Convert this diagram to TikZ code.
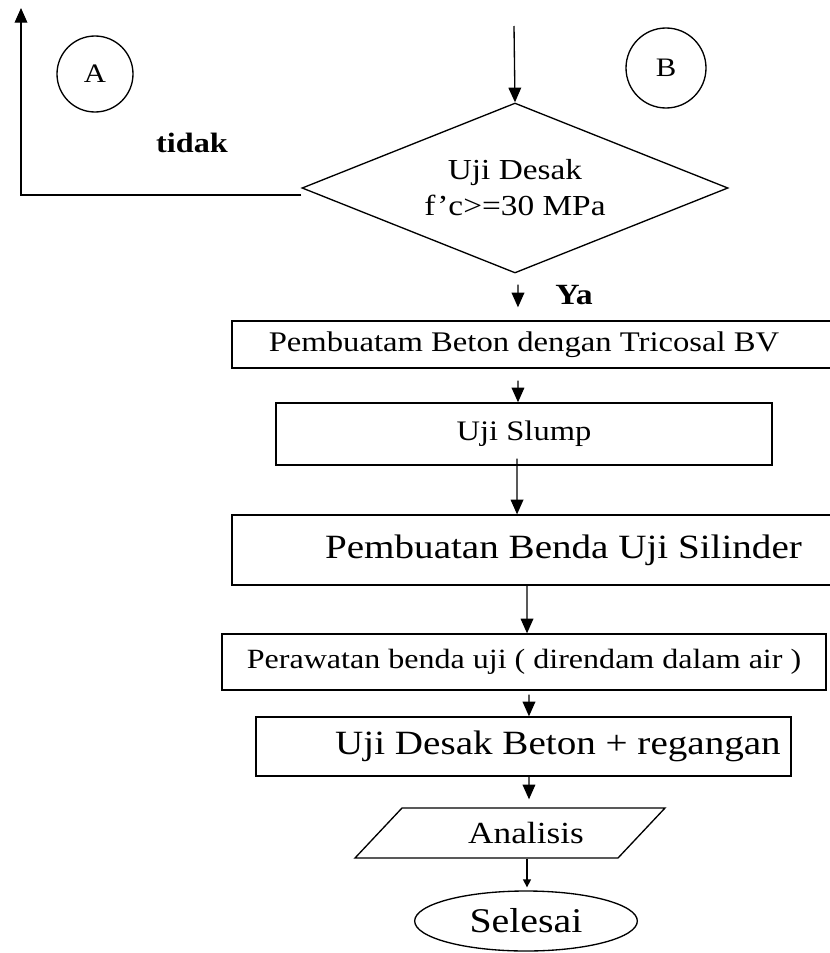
\documentclass[tikz,border=0pt]{standalone}
\usepackage{fontspec}
\setmainfont[FakeStretch=1.15]{Liberation Serif}
\usetikzlibrary{arrows.meta,shapes.geometric}
\newcommand{\myfs}[2]{\fontsize{#1pt}{#2pt}\selectfont}
\begin{document}
\begin{tikzpicture}[x=0.75pt,y=-0.75pt,line width=1pt,
  box/.style={draw,rectangle,inner sep=0pt,align=center},
  conn/.style={circle,draw,inner sep=0pt,font=\myfs{20}{24}},
  arr/.style={-{Triangle[length=11pt,width=9.5pt]}},
  arrs/.style={-{Triangle[length=6pt,width=6pt]}},
  lbl/.style={inner sep=0pt,font=\bfseries\myfs{21}{25}}]
\useasboundingbox (0,0) rectangle (829,953);

% connectors A and B
\node[conn,minimum size=57pt] (A) at (95,74) {A};
\node[conn,minimum size=60pt] (B) at (666,68) {B};

% decision
\node[draw,diamond,aspect=2.5,minimum width=319.5pt,minimum height=127.5pt,
      inner sep=0pt,align=center,font=\myfs{21.75}{27}] (d) at (515,188)
      {Uji Desak\\f’c>=30 MPa};
\node[lbl] (tidak) at (192,143) {tidak};
\node[lbl,font=\bfseries\myfs{22}{26}] (ya) at (574,295) {Ya};

% process boxes
\node[box,minimum width=459.75pt,minimum height=35.25pt,font=\myfs{21.3}{25}] (b1) at (538.5,344.5)
  {Pembuatam Beton dengan Tricosal BV\hspace*{21.75pt}};
\node[box,minimum width=372pt,minimum height=46.5pt,font=\myfs{21.2}{25}] (b2) at (524,434)
  {Uji Slump};
\node[box,minimum width=459.75pt,minimum height=52.5pt,font=\myfs{25.5}{30}] (b3) at (538.5,550)
  {\hspace*{37.5pt}Pembuatan Benda Uji Silinder};
\node[box,minimum width=453pt,minimum height=42pt,font=\myfs{20.9}{25}] (b4) at (524,662)
  {Perawatan benda uji ( direndam dalam air )};
\node[box,minimum width=401.25pt,minimum height=44.25pt,font=\myfs{25.5}{30}] (b5) at (523.5,746.5)
  {\hspace*{51.75pt}Uji Desak Beton + regangan};

% data (parallelogram)
\draw (402,808) -- (665,808) -- (618,858) -- (355,858) -- cycle;
\node[inner sep=0pt,minimum height=37.5pt,font=\myfs{23}{27}] (pa) at (526,833) {Analisis};

% terminator
\node[draw,ellipse,minimum width=167pt,minimum height=45pt,inner sep=0pt,font=\myfs{26}{30}] (e) at (526,921) {Selesai};

% free ends
\coordinate (tin) at (514,26);
\coordinate (ltop) at (21,8);

% connectors
\draw[arr] (tin) -- (d.north);
\draw[arr] ([yshift=-5.25pt]d.west) -| (ltop);
\draw[arr] ([xshift=2.25pt,yshift=-8.25pt]d.south) -- ([xshift=-15.4pt,yshift=9.75pt]b1.north);
\draw[arr] ([xshift=-15.4pt,yshift=-9pt]b1.south) -- ([xshift=-4.5pt]b2.north);
\draw[arr] ([xshift=-5.25pt,yshift=5.25pt]b2.south) -- ([xshift=-16.1pt]b3.north);
\draw[arr] ([xshift=-8.6pt]b3.south) -- ([xshift=2.25pt]b4.north);
\draw[arr] ([xshift=3.75pt,yshift=-3pt]b4.south) -- ([xshift=4.1pt]b5.north);
\draw[arr] ([xshift=4.1pt]b5.south) -- ([xshift=2.25pt,yshift=6pt]pa.north);
\draw[arrs] ([xshift=0.75pt]pa.south) -- ([xshift=0.75pt,yshift=2.25pt]e.north);
\end{tikzpicture}
\end{document}
